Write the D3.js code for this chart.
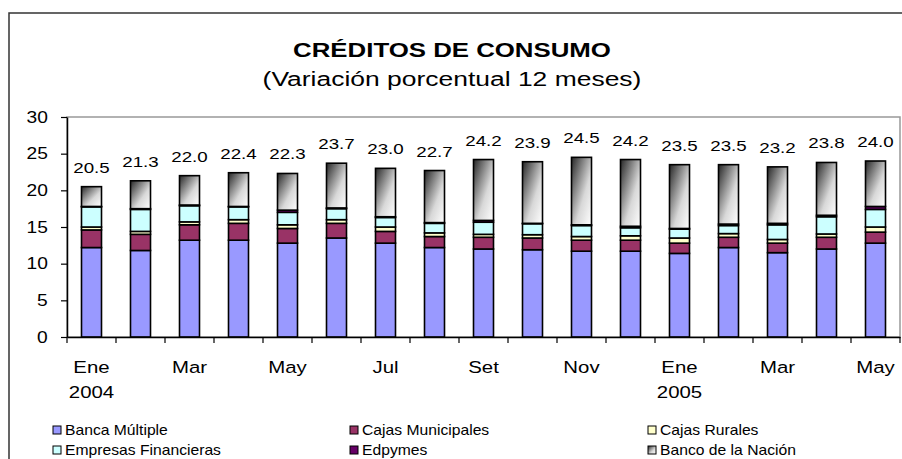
<!DOCTYPE html>
<html>
<head>
<meta charset="utf-8">
<script src="https://cdn.jsdelivr.net/npm/d3@7"></script>
<style>
  body { margin: 0; background: #fff; }
  svg { display: block; font-family: "Liberation Sans", Arial, sans-serif; }
</style>
</head>
<body>
<div id="chart"></div>
<script>
// Categories (monthly, Ene 2004 - May 2005)
var categories = ["Ene-04", "Feb-04", "Mar-04", "Abr-04", "May-04", "Jun-04", "Jul-04", "Ago-04", "Set-04",
    "Oct-04", "Nov-04", "Dic-04", "Ene-05", "Feb-05", "Mar-05", "Abr-05", "May-05"];
var monthLabels = ["Ene", "", "Mar", "", "May", "", "Jul", "", "Set", "", "Nov", "", "Ene", "", "Mar", "", "May"];
var yearLabels = ["2004", "", "", "", "", "", "", "", "", "", "", "", "2005", "", "", "", ""];

// Contribution of each type of institution (percentage points)
var bancaMultiple = [12.2, 11.8, 13.2, 13.2, 12.8, 13.5, 12.8, 12.2, 12.0, 11.9, 11.7, 11.7, 11.4, 12.2, 11.5, 12.0, 12.8];
var cajasMunicipales = [2.4, 2.2, 2.1, 2.3, 2.0, 2.0, 1.6, 1.5, 1.6, 1.6, 1.5, 1.5, 1.4, 1.4, 1.3, 1.6, 1.5];
var cajasRurales = [0.4, 0.4, 0.4, 0.5, 0.5, 0.5, 0.6, 0.5, 0.4, 0.45, 0.5, 0.6, 0.7, 0.5, 0.5, 0.45, 0.7];
var empresasFinancieras = [2.75, 3.0, 2.2, 1.75, 1.7, 1.5, 1.3, 1.3, 1.65, 1.5, 1.5, 1.1, 1.2, 1.1, 2.0, 2.35, 2.4];
var edpymes = [0.05, 0.1, 0.1, 0.05, 0.3, 0.1, 0.1, 0.1, 0.25, 0.05, 0.1, 0.2, 0.1, 0.2, 0.2, 0.2, 0.4];
var bancoNacion = [2.7, 3.8, 4.0, 4.6, 5.0, 6.1, 6.6, 7.1, 8.3, 8.4, 9.2, 9.1, 8.7, 8.1, 7.7, 7.2, 6.2];
var totals = [20.5, 21.3, 22.0, 22.4, 22.3, 23.7, 23.0, 22.7, 24.2, 23.9, 24.5, 24.2, 23.5, 23.5, 23.2, 23.8, 24.0];

var seriesNames = ["Banca Múltiple", "Cajas Municipales", "Cajas Rurales", "Empresas Financieras", "Edpymes", "Banco de la Nación"];
var seriesColors = ["#9999ff", "#993366", "#ffffcc", "#ccffff", "#660066", "url(#gradNacion)"];
var yTicks = [0, 5, 10, 15, 20, 25, 30];

var width = 902, height = 459;
var margin = { left: 67, right: 2, top: 117, bottom: 120 };
var sx = 1.2; // horizontal stretch of the text in the original

var seriesValues = [bancaMultiple, cajasMunicipales, cajasRurales, empresasFinancieras, edpymes, bancoNacion];
var table = categories.map(function(c, i) {
    var row = { cat: c };
    seriesNames.forEach(function(s, k) { row[s] = seriesValues[k][i]; });
    return row;
});

var svg = d3.select("#chart")
    .append("svg")
    .attr("width", width)
    .attr("height", height);

var grad = svg.append("defs").append("linearGradient")
    .attr("id", "gradNacion")
    .attr("x1", 0).attr("y1", 0).attr("x2", 1).attr("y2", 1);
grad.append("stop").attr("offset", "0%").attr("stop-color", "#262626");
grad.append("stop").attr("offset", "60%").attr("stop-color", "#d8d8d8");
grad.append("stop").attr("offset", "100%").attr("stop-color", "#ffffff");

// outer chart border (runs off the right and bottom edge)
svg.append("rect")
    .attr("x", 9).attr("y", 13)
    .attr("width", 900).attr("height", 460)
    .attr("fill", "none")
    .attr("stroke", "#333")
    .attr("stroke-width", 1.5);

// titles
svg.append("text")
    .attr("transform", "translate(452,57) scale(1.23,1)")
    .attr("text-anchor", "middle")
    .style("font-size", "21px")
    .style("font-weight", "bold")
    .text("CRÉDITOS DE CONSUMO");

svg.append("text")
    .attr("transform", "translate(452,86) scale(1.26,1)")
    .attr("text-anchor", "middle")
    .style("font-size", "21px")
    .text("(Variación porcentual 12 meses)");

var x = d3.scaleBand()
    .domain(categories)
    .range([margin.left, width - margin.right]);

var y = d3.scaleLinear()
    .domain([0, 30])
    .range([height - margin.bottom - 2, margin.top]);

// plot area border (top and right in gray)
svg.append("rect")
    .attr("x", margin.left)
    .attr("y", y(30))
    .attr("width", x.range()[1] - margin.left)
    .attr("height", y(0) - y(30))
    .attr("fill", "none")
    .attr("stroke", "#999")
    .attr("stroke-width", 1.5);

var stack = d3.stack().keys(seriesNames);
var stacked = stack(table);

var barW = 20;

var layers = svg.selectAll(".layer")
    .data(stacked)
    .enter().append("g")
    .attr("class", "layer")
    .attr("fill", function(d, i) { return seriesColors[i]; });

layers.selectAll("rect")
    .data(function(d) { return d; })
    .enter().append("rect")
    .attr("x", function(d) { return x(d.data.cat) + (x.bandwidth() - barW) / 2; })
    .attr("y", function(d) { return y(d[1]); })
    .attr("width", barW)
    .attr("height", function(d) { return y(d[0]) - y(d[1]); })
    .attr("stroke", "#000")
    .attr("stroke-width", 1.6);

// value labels
svg.selectAll(".total")
    .data(totals)
    .enter().append("text")
    .attr("class", "total")
    .attr("transform", function(d, i) {
        return "translate(" + (x(categories[i]) + x.bandwidth() / 2) + "," + (y(d) - 14) + ") scale(1.25,1)";
    })
    .attr("text-anchor", "middle")
    .style("font-size", "15px")
    .text(function(d) { return d.toFixed(1); });

// y axis
var yAxis = svg.append("g")
    .attr("transform", "translate(" + margin.left + ",0)")
    .call(d3.axisLeft(y).tickValues(yTicks).tickSize(6).tickSizeOuter(0));
yAxis.select(".domain").attr("stroke", "#000").attr("stroke-width", 1.5);
yAxis.selectAll(".tick line").attr("stroke", "#000").attr("stroke-width", 1.2);
yAxis.selectAll(".tick text")
    .attr("x", -16)
    .attr("transform", "scale(" + sx + ",1)")
    .style("font-size", "16px")
    .style("font-family", "'Liberation Sans', Arial, sans-serif")
    .attr("fill", "#000");

// x axis
var xAxis = svg.append("g")
    .attr("transform", "translate(0," + y(0) + ")")
    .call(d3.axisBottom(x).tickSize(0).tickSizeOuter(0).tickFormat(""));
xAxis.select(".domain").attr("stroke", "#000").attr("stroke-width", 1.5);

xAxis.selectAll(".sep")
    .data(categories.concat(["end"]))
    .enter().append("line")
    .attr("class", "sep")
    .attr("x1", function(d, i) { return i < categories.length ? x(d) : x.range()[1]; })
    .attr("x2", function(d, i) { return i < categories.length ? x(d) : x.range()[1]; })
    .attr("y1", 0).attr("y2", 6)
    .attr("stroke", "#000")
    .attr("stroke-width", 1.2);

xAxis.selectAll(".mlab")
    .data(monthLabels)
    .enter().append("text")
    .attr("class", "mlab")
    .attr("transform", function(d, i) {
        return "translate(" + (x(categories[i]) + x.bandwidth() / 2) + ",36) scale(" + sx + ",1)";
    })
    .attr("text-anchor", "middle")
    .attr("fill", "#000")
    .style("font-size", "17px")
    .style("font-family", "'Liberation Sans', Arial, sans-serif")
    .text(function(d) { return d; });

xAxis.selectAll(".ylab")
    .data(yearLabels)
    .enter().append("text")
    .attr("class", "ylab")
    .attr("transform", function(d, i) {
        return "translate(" + (x(categories[i]) + x.bandwidth() / 2) + ",61) scale(" + sx + ",1)";
    })
    .attr("text-anchor", "middle")
    .attr("fill", "#000")
    .style("font-size", "17px")
    .style("font-family", "'Liberation Sans', Arial, sans-serif")
    .text(function(d) { return d; });

// legend
var legendX = [53, 350, 648];
var legendY = [435, 455];

var legend = svg.selectAll(".legend")
    .data(seriesNames)
    .enter().append("g")
    .attr("class", "legend")
    .attr("transform", function(d, i) {
        return "translate(" + legendX[i % 3] + "," + legendY[Math.floor(i / 3)] + ")";
    });

legend.append("rect")
    .attr("x", 0).attr("y", -9)
    .attr("width", 8).attr("height", 8)
    .attr("fill", function(d, i) { return seriesColors[i]; })
    .attr("stroke", "#000")
    .attr("stroke-width", 1);

legend.append("text")
    .attr("transform", "translate(12,0) scale(1.12,1)")
    .style("font-size", "14px")
    .text(function(d) { return d; });
</script>
</body>
</html>
